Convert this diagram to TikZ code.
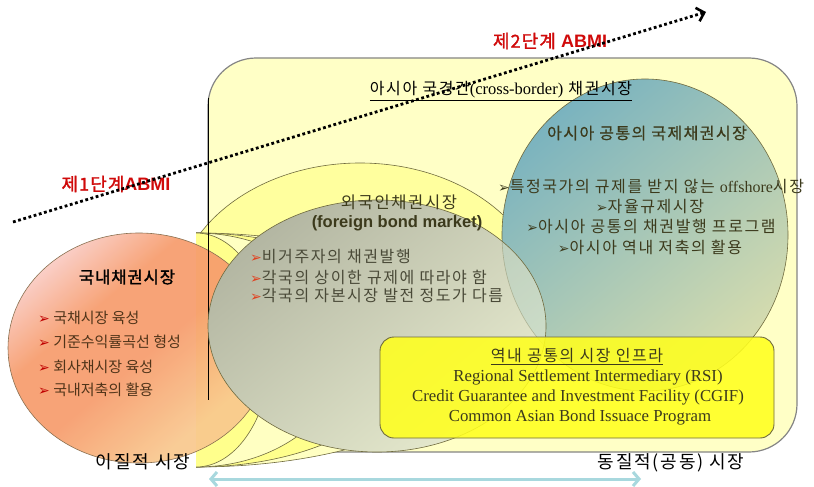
\documentclass[tikz,border=0pt]{standalone}
\usepackage{fontspec}
\setmainfont{Noto Sans CJK KR}[LetterSpace=10]
\newfontfamily\krplain{Noto Sans CJK KR}
\newfontfamily\tms{Liberation Serif}
\newfontfamily\arl{Liberation Sans}
\newfontfamily\dvs{DejaVu Sans}
\newfontfamily\krbold{Noto Sans CJK KR}[FakeBold=1.6,LetterSpace=6]
\newfontfamily\krsemi{Noto Sans CJK KR}[FakeBold=0.6,LetterSpace=9]
\usetikzlibrary{arrows.meta}

\definecolor{framefill}{HTML}{FFFFC6}
\definecolor{frameline}{HTML}{858585}
\definecolor{ylwmain}{HTML}{FFFF9E}
\definecolor{ylwA}{HTML}{FFFFC2}
\definecolor{ylwB}{HTML}{FFFF8C}
\definecolor{olv}{HTML}{6F6A3E}
\definecolor{orgA}{HTML}{FBDDE4}
\definecolor{orgB}{HTML}{F79C6C}
\definecolor{orgC}{HTML}{F9C88E}
\definecolor{orgline}{HTML}{8A7050}
\definecolor{gryA}{HTML}{B3B6A2}
\definecolor{gryM}{HTML}{D0D3BB}
\definecolor{gryB}{HTML}{E6EACE}
\definecolor{bluA}{HTML}{7AB3BF}
\definecolor{bluM}{HTML}{9ECBC6}
\definecolor{bluB}{HTML}{D6DCAE}
\definecolor{boxfill}{HTML}{FFFF1E}
\definecolor{txtdark}{HTML}{3C3A1C}
\definecolor{txtgray}{HTML}{4A4A38}
\definecolor{stagered}{HTML}{D00A0A}
\definecolor{bulred}{HTML}{C00000}
\definecolor{bulorange}{HTML}{E2401E}
\definecolor{spanblue}{HTML}{A8D8DE}

% pink corner fading into salmon and light orange
\pgfdeclareverticalshading{domshade}{100bp}{color(0bp)=(orgC); color(30bp)=(orgC);
  color(48bp)=(orgB); color(62bp)=(orgB); color(80bp)=(orgA); color(100bp)=(orgA)}

\newcommand{\olvbul}{{\dvs\fontsize{14}{16}\selectfont ➢}}
\newcommand{\orgbul}{{\dvs\fontsize{14}{16}\selectfont\color{bulorange}➢}}
\newcommand{\redbul}{{\dvs\fontsize{14}{16}\selectfont\color{bulred}➢}}

\begin{document}
\begin{tikzpicture}[x=1pt,y=-1pt,
  shapeline/.style={draw=olv,line width=0.6pt},
  head/.style={font=\fontsize{16}{19}\selectfont,text=txtdark,inner sep=0pt},
  item/.style={font=\fontsize{16}{19}\selectfont,text=txtdark,inner sep=0pt},
  graynote/.style={font=\fontsize{16}{19}\selectfont,text=txtgray,inner sep=0pt,anchor=west},
  domnote/.style={font=\krplain\fontsize{15}{18}\selectfont,text=txtdark!90!red,inner sep=0pt,anchor=west},
  infra/.style={font=\tms\fontsize{16.8}{19}\selectfont,text=txtdark,inner sep=0pt},
  stage/.style={font=\krbold\fontsize{18}{21}\selectfont,text=stagered,inner sep=0pt},
  sidelabel/.style={font=\fontsize{18}{21}\selectfont,text=black,inner sep=0pt}]
\useasboundingbox (0,0) rectangle (814,487);
\fill[white] (0,0) rectangle (814,487);

% cross-border market frame
\filldraw[fill=framefill,draw=frameline,line width=1.2pt,rounded corners=48pt]
  (208,58) rectangle (797,452);

% foreign bond market: outer ellipse and the stacked layers
\begin{scope}
  \clip (196,0) rectangle (814,487);
  \filldraw[fill=ylwmain,shapeline] (360,305) ellipse [x radius=185, y radius=142];
  \foreach \r/\c in {285/ylwA,215/ylwB,150/ylwA,75/ylwB}
    \filldraw[fill=\c,shapeline] (196,350) ellipse [x radius=\r, y radius=117];
\end{scope}

% domestic bond market
\shade[shading=domshade,shading angle=40,opacity=0.92]
  (139,348) ellipse [x radius=131, y radius=115];
\draw[draw=orgline,line width=0.6pt] (139,348) ellipse [x radius=131, y radius=115];
\draw[black,line width=0.9pt] (208,98) -- (208,400);

% Asian common international bond market
\shade[top color=bluA,middle color=bluM,bottom color=bluB,shading angle=40]
  (645,235) ellipse [x radius=143, y radius=156];
\draw[shapeline] (645,235) ellipse [x radius=143, y radius=156];

% inner foreign bond market
\shade[top color=gryA,middle color=gryM,bottom color=gryB,shading angle=40]
  (377,326) ellipse [x radius=169, y radius=126];
\begin{scope}
  \clip (377,326) ellipse [x radius=169, y radius=126];
  \fill[bluM,opacity=0.3] (645,235) ellipse [x radius=143, y radius=156];
  \draw[olv,opacity=0.35,line width=0.6pt] (645,235) ellipse [x radius=143, y radius=156];
\end{scope}
\draw[shapeline] (377,326) ellipse [x radius=169, y radius=126];

% regional infrastructure box
\filldraw[fill=boxfill,fill opacity=0.88,draw=olv,line width=0.9pt,rounded corners=14pt]
  (380,337) rectangle (774,438);

% stage labels
\node[stage] (stage2) at (550,41) {제2단계 {\arl\bfseries ABMI}};
\node[stage] (stage1) at (116,184) {제1단계{\arl\bfseries ABMI}};

% frame title
\node[font=\fontsize{16}{19}\selectfont,text=black,inner sep=0pt] (frametitle) at (501,91)
  {\underline{아시아 국경간{\tms\fontsize{16.5}{19}\selectfont(cross-border)} 채권시장}};

% Asian common market texts
\node[head,font=\krsemi\fontsize{16}{19}\selectfont] (asiatitle) at (647,133) {아시아 공통의 국제채권시장};
\node[item] (asia1) at (651,187) {\olvbul 특정국가의 규제를 받지 않는 {\tms offshore}시장};
\node[item] (asia2) at (650,207) {\olvbul 자율규제시장};
\node[item] (asia3) at (651,227) {\olvbul 아시아 공통의 채권발행 프로그램};
\node[item] (asia4) at (650,247) {\olvbul 아시아 역내 저축의 활용};

% foreign bond market texts
\node[head,font=\fontsize{16.5}{19}\selectfont] (fortitle) at (399,202) {외국인채권시장};
\node[font=\arl\bfseries\fontsize{16.5}{19}\selectfont,text=txtdark,inner sep=0pt] (foreng) at (397,223)
  {(foreign bond market)};
\node[graynote] (for1) at (250,257) {\orgbul 비거주자의 채권발행};
\node[graynote] (for2) at (250,277) {\orgbul 각국의 상이한 규제에 따라야 함};
\node[graynote] (for3) at (250,296) {\orgbul 각국의 자본시장 발전 정도가 다름};

% domestic bond market texts
\node[font=\krbold\fontsize{16.5}{19}\selectfont,text=black,inner sep=0pt] (domtitle) at (127,277) {국내채권시장};
\node[domnote] (dom1) at (38,318) {\redbul\ 국채시장 육성};
\node[domnote] (dom2) at (38,342) {\redbul\ 기준수익률곡선 형성};
\node[domnote] (dom3) at (38,367) {\redbul\ 회사채시장 육성};
\node[domnote] (dom4) at (38,390) {\redbul\ 국내저축의 활용};

% infrastructure texts
\node[font=\fontsize{16}{19}\selectfont,text=txtdark,inner sep=0pt] (infratitle) at (577,357)
  {\underline{역내 공통의 시장 인프라}};
\node[infra] (rsi) at (588,377) {Regional Settlement Intermediary (RSI)};
\node[infra] (cgif) at (578,397) {Credit Guarantee and Investment Facility (CGIF)};
\node[infra] (cabip) at (580,417) {Common Asian Bond Issuace Program};

% market character labels
\node[sidelabel] (hetero) at (143,462) {이질적 시장};
\node[sidelabel] (homo) at (671,463) {동질적(공동) 시장};

% span arrow between the two market characters
\coordinate (spanL) at (209,479);
\coordinate (spanR) at (641,479);
\draw[spanblue,line width=3pt,
  {Straight Barb[length=6pt,width=14pt]}-{Straight Barb[length=6pt,width=14pt]}]
  (spanL) -- (spanR);

% ABMI progression arrow
\coordinate (progS) at (13,222);
\coordinate (progE) at (706,12);
\draw[black,line width=2.8pt,dash pattern=on 2.8pt off 2.6pt,
  -{Straight Barb[length=7pt,width=14pt,line width=2.6pt]}]
  (progS) -- (progE);
\end{tikzpicture}
\end{document}
